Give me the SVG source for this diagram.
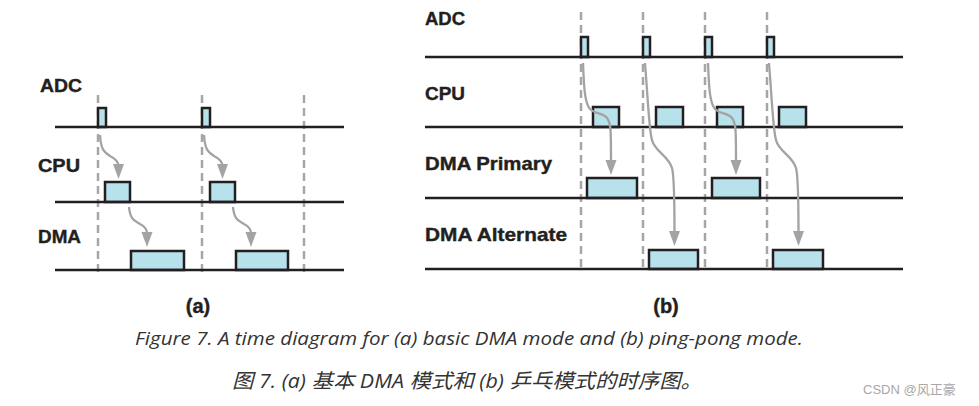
<svg xmlns="http://www.w3.org/2000/svg" width="979" height="406" viewBox="0 0 979 406">
<style>
.lbl{font-family:"Liberation Sans",Arial,sans-serif;font-weight:bold;font-size:19px;fill:#231f20;stroke:#231f20;stroke-width:0.4}
.sig{stroke:#231f20;stroke-width:2.5;fill:none}
.box{fill:#b7e1eb;stroke:#231f20;stroke-width:2.5}
.dash{stroke:#a6a6a6;stroke-width:2.5;stroke-dasharray:8 5;fill:none}
.arr{stroke:#a3a3a3;stroke-width:2.3;fill:none;marker-end:url(#ah)}
.cap{font-family:"Open Sans","Noto Sans",sans-serif;font-style:italic;font-size:19px;fill:#333}
.capzh{font-family:"Open Sans","Noto Sans CJK SC",sans-serif;font-style:italic;font-size:20px;fill:#333}
.sub{font-family:"Liberation Sans",Arial,sans-serif;font-weight:bold;font-size:20px;fill:#231f20;stroke:#231f20;stroke-width:0.4}
</style>
<defs>
<marker id="ah" markerUnits="userSpaceOnUse" markerWidth="16" markerHeight="12" refX="2" refY="5.5" orient="auto">
<path d="M0,0 L15,5.5 L0,11 z" fill="#a3a3a3"/>
</marker>
</defs>
<rect width="979" height="406" fill="#ffffff"/>

<g id="diagram-a">
<g id="a-dashes">
<line class="dash" x1="98" y1="95" x2="98" y2="272"/>
<line class="dash" x1="202" y1="95" x2="202" y2="272"/>
<line class="dash" x1="304" y1="95" x2="304" y2="272"/>
</g>
<g id="a-adc">
<text class="lbl" x="40" y="92" textLength="42" lengthAdjust="spacingAndGlyphs">ADC</text>
<rect class="box" x="98" y="108" width="8" height="19"/>
<rect class="box" x="202" y="108" width="8" height="19"/>
<line class="sig" x1="55" y1="127" x2="344" y2="127"/>
</g>
<g id="a-cpu">
<text class="lbl" x="38" y="172" textLength="42" lengthAdjust="spacingAndGlyphs">CPU</text>
<rect class="box" x="105" y="182" width="25" height="20"/>
<rect class="box" x="210" y="182" width="25" height="20"/>
<line class="sig" x1="55" y1="202" x2="344" y2="202"/>
</g>
<g id="a-dma">
<text class="lbl" x="38" y="243" textLength="43" lengthAdjust="spacingAndGlyphs">DMA</text>
<rect class="box" x="131" y="251" width="53" height="19"/>
<rect class="box" x="236" y="251" width="52" height="19"/>
<line class="sig" x1="55" y1="270" x2="344" y2="270"/>
</g>
<g id="a-connectors">
<path class="arr" d="M100,135 C101,150 104,152 110,156 C116,159 118.5,162 118.5,166"/>
<path class="arr" d="M204,135 C205,150 208,152 214,156 C220,159 222.5,162 222.5,166"/>
<path class="arr" d="M129,207 C130,218 133,220 140,224 C146,227 147,230 147,234"/>
<path class="arr" d="M233,207 C234,218 237,220 244,224 C250,227 251,230 251,234"/>
</g>
</g>

<g id="diagram-b">
<g id="b-dashes">
<line class="dash" x1="581" y1="12" x2="581" y2="270"/>
<line class="dash" x1="643" y1="12" x2="643" y2="270"/>
<line class="dash" x1="705" y1="12" x2="705" y2="270"/>
<line class="dash" x1="767" y1="12" x2="767" y2="270"/>
</g>
<g id="b-adc">
<text class="lbl" x="425" y="25" textLength="40" lengthAdjust="spacingAndGlyphs">ADC</text>
<rect class="box" x="581" y="37" width="7" height="20"/>
<rect class="box" x="643" y="37" width="7" height="20"/>
<rect class="box" x="705" y="37" width="7" height="20"/>
<rect class="box" x="767" y="37" width="7" height="20"/>
<line class="sig" x1="425" y1="57" x2="903" y2="57"/>
</g>
<g id="b-cpu">
<text class="lbl" x="425" y="100" textLength="40" lengthAdjust="spacingAndGlyphs">CPU</text>
<rect class="box" x="593" y="107" width="26" height="20"/>
<rect class="box" x="656" y="107" width="27" height="20"/>
<rect class="box" x="717" y="107" width="26" height="20"/>
<rect class="box" x="779" y="107" width="27" height="20"/>
<line class="sig" x1="425" y1="127" x2="903" y2="127"/>
</g>
<g id="b-dma-primary">
<text class="lbl" x="425" y="170" textLength="127" lengthAdjust="spacingAndGlyphs">DMA Primary</text>
<rect class="box" x="587" y="178" width="50" height="20"/>
<rect class="box" x="712" y="178" width="48" height="20"/>
<line class="sig" x1="425" y1="198" x2="903" y2="198"/>
</g>
<g id="b-dma-alternate">
<text class="lbl" x="425" y="241" textLength="142" lengthAdjust="spacingAndGlyphs">DMA Alternate</text>
<rect class="box" x="649" y="250" width="49" height="19"/>
<rect class="box" x="773" y="250" width="50" height="19"/>
<line class="sig" x1="425" y1="269" x2="903" y2="269"/>
</g>
<g id="b-connectors">
<path class="arr" d="M583,63 C584,90 585,103 590,109 C595,114 603,113 607,118 C611,123 611,130 611,162"/>
<path class="arr" d="M645,63 C648,100 649,130 652,140 C655,152 668,155 672,168 C674,175 674.5,190 674.5,233"/>
<path class="arr" d="M708,63 C709,90 710,103 715,109 C720,114 728,113 732,118 C736,123 736,130 736,162"/>
<path class="arr" d="M769,63 C772,100 773,130 776,140 C779,152 792,155 796,168 C798,175 798.5,190 798.5,233"/>
</g>
</g>

<g id="captions">
<text class="sub" x="198" y="313" text-anchor="middle">(a)</text>
<text class="sub" x="666" y="313" text-anchor="middle">(b)</text>
<text class="cap" x="135" y="345" textLength="668" lengthAdjust="spacingAndGlyphs">Figure 7. A time diagram for (a) basic DMA mode and (b) ping-pong mode.</text>
<text class="capzh" x="232" y="388" textLength="470" lengthAdjust="spacingAndGlyphs">图 7. (a) 基本 DMA 模式和 (b) 乒乓模式的时序图。</text>
<text x="863" y="394" font-family="Liberation Sans,Arial,Noto Sans CJK SC,sans-serif" font-size="13" fill="#a8a8a8">CSDN @风正豪</text>
</g>
</svg>
